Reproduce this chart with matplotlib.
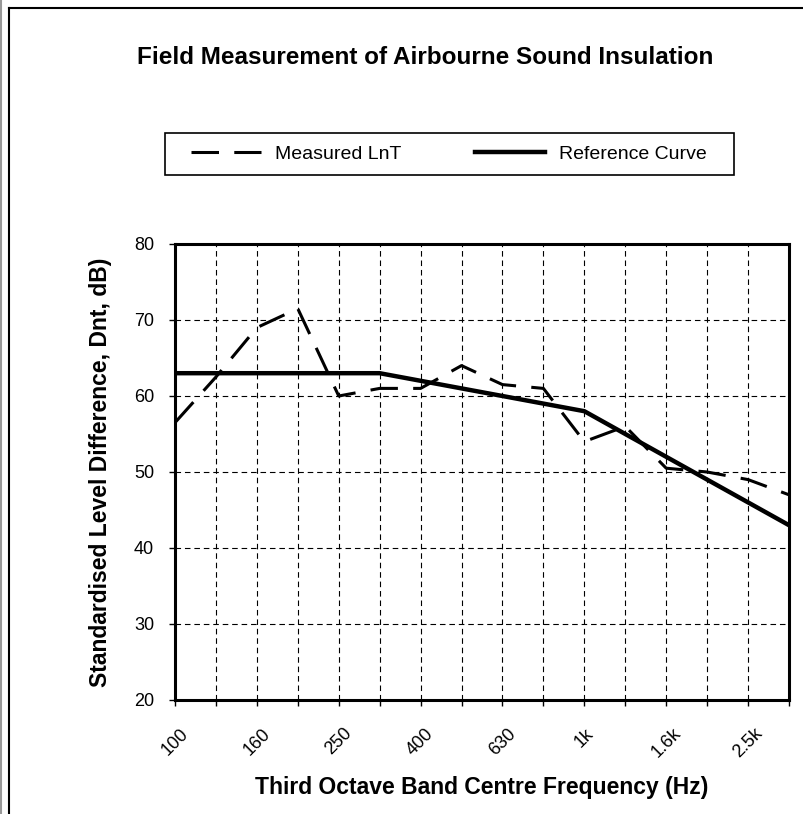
import matplotlib.pyplot as plt
from matplotlib.patches import Rectangle
from matplotlib.lines import Line2D

# third octave bands 100 Hz - 3.15 kHz
bands = ["100", "125", "160", "200", "250", "315", "400", "500",
         "630", "800", "1k", "1.25k", "1.6k", "2k", "2.5k", "3.15k"]
measured = [56.5, 62.5, 69, 71.5, 60, 61, 61, 64,
            61.5, 61, 54, 56, 50.5, 50, 49, 47]
reference = [63, 63, 63, 63, 63, 63, 62, 61,
             60, 59, 58, 55, 52, 49, 46, 43]
yticks = [20, 30, 40, 50, 60, 70, 80]

plt.rcParams["font.family"] = ["Liberation Sans", "DejaVu Sans"]

W, H = 804, 814
fig = plt.figure(figsize=(W / 100, H / 100), dpi=100)

# plot area in pixels: x 175..789, y 244..700
ax = fig.add_axes([175 / W, 1 - 700 / H, 614 / W, 456 / H])

x = list(range(len(bands)))
meas_line, = ax.plot(x, measured, color="black", lw=2.2,
                     label="Measured LnT")
meas_line.set_dashes((9, 5))
ref_line, = ax.plot(x, reference, color="black", lw=3.2,
                    label="Reference Curve")

ax.set_xlim(0, len(bands) - 1)
ax.set_ylim(20, 80)
ax.set_yticks(yticks)
ax.set_xticks(x)
ax.set_xticklabels([b if i % 2 == 0 else "" for i, b in enumerate(bands)],
                   rotation=45, ha="center", va="top")

ax.grid(True, color="black", lw=0.8, linestyle=(0, (5, 3.5)))
ax.set_axisbelow(True)
for s in ax.spines.values():
    s.set_linewidth(2.2)

ax.tick_params(axis="y", direction="out", length=4, width=1,
               labelsize=13, pad=11)
ax.tick_params(axis="x", direction="out", length=4, width=1,
               labelsize=13, pad=14)

ax.set_xlabel("Third Octave Band Centre Frequency (Hz)",
              fontweight="bold", fontsize=16.5, labelpad=11)
ax.set_ylabel("Standardised Level Difference, Dnt, dB)",
              fontweight="bold", fontsize=16.5, labelpad=16)

fig.text(425 / W, 1 - 57 / H, "Field Measurement of Airbourne Sound Insulation",
         fontweight="bold", fontsize=17.5, ha="center", va="center")

# legend box
fig.patches.append(Rectangle((165 / W, 1 - 175 / H), 569 / W, 42 / H,
                             transform=fig.transFigure, fill=False,
                             edgecolor="black", lw=1.2))
fig.legend(handles=[meas_line, ref_line], loc="center",
           bbox_to_anchor=(449 / W, 1 - 154 / H), ncol=2, frameon=False,
           fontsize=14, handlelength=3.6, handletextpad=0.7,
           columnspacing=3.8)

# chart area border (cropped)
fig.add_artist(Line2D([1 / W, 1 / W], [0, 1], color="#999999", lw=1.5))
fig.add_artist(Line2D([9 / W, 9 / W], [0, 1 - 8 / H], color="black", lw=1.5))
fig.add_artist(Line2D([9 / W, 1], [1 - 8 / H, 1 - 8 / H], color="black", lw=1.5))

fig.savefig("out.png", dpi=100)
